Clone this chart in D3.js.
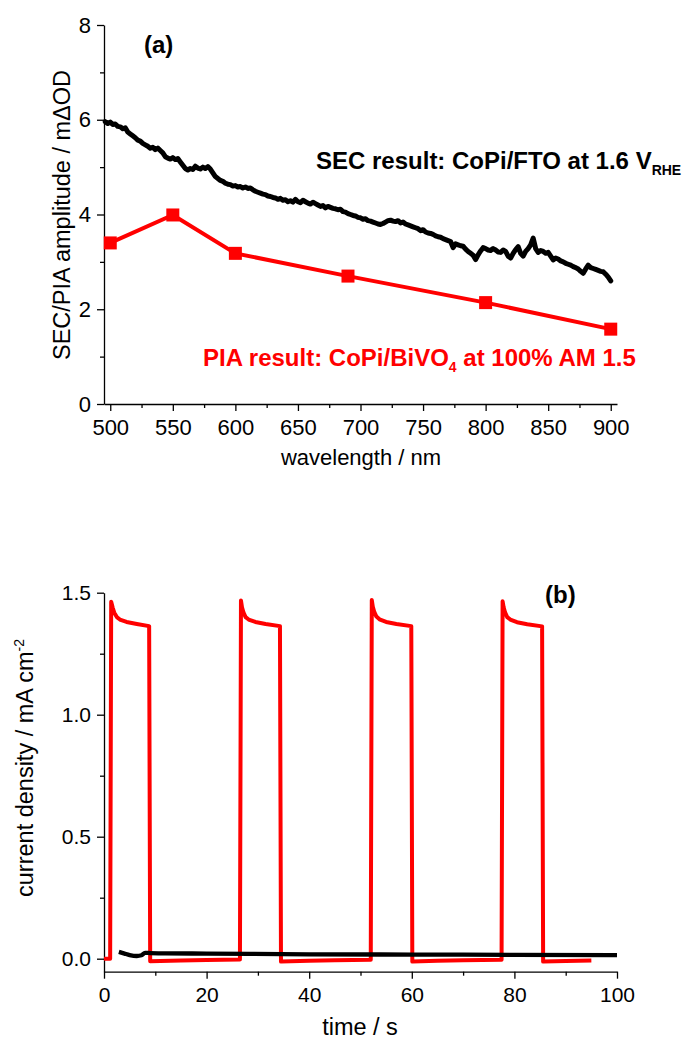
<!DOCTYPE html>
<html>
<head>
<meta charset="utf-8">
<script src="https://cdn.jsdelivr.net/npm/d3@7"></script>
<style>
  body { margin: 0; background: #fff; }
  svg { display: block; font-family: "Liberation Sans", Arial, sans-serif; }
  .axis path, .axis line { stroke: #000; stroke-width: 1.3; }
  .axis text { fill: #000; font-family: "Liberation Sans", Arial, sans-serif; }
</style>
</head>
<body>
<div id="chart"></div>
<script>
// ---- data: panel (a) ----
// PIA result, CoPi/BiVO4 (red squares)
var piaWl = [500, 550, 600, 690, 800, 900];
var piaAmp = [3.40, 3.99, 3.18, 2.70, 2.14, 1.58];

// SEC result, CoPi/FTO (black noisy trace), sampled every 2 nm from 496 to 900
var secStart = 496;
var secStep = 2;
var secAmp = [
  5.96, 5.92, 5.95, 5.90, 5.91, 5.86, 5.85, 5.81, 5.83, 5.74, 5.70, 5.66, 5.62, 5.57, 5.55, 5.50,
  5.47, 5.44, 5.40, 5.42, 5.37, 5.40, 5.35, 5.30, 5.22, 5.19, 5.17, 5.20, 5.16, 5.18, 5.11, 5.04,
  4.97, 4.94, 4.97, 4.95, 5.02, 4.98, 4.96, 5.00, 4.97, 5.01, 4.96, 4.88, 4.80, 4.76, 4.72, 4.70,
  4.66, 4.64, 4.63, 4.60, 4.61, 4.58, 4.59, 4.56, 4.58, 4.55, 4.56, 4.52, 4.49, 4.47, 4.45, 4.43,
  4.42, 4.39, 4.38, 4.36, 4.35, 4.32, 4.34, 4.30, 4.31, 4.27, 4.29, 4.26, 4.32, 4.27, 4.25, 4.30,
  4.27, 4.24, 4.22, 4.26, 4.23, 4.20, 4.17, 4.19, 4.14, 4.17, 4.15, 4.13, 4.12, 4.10, 4.11, 4.06,
  4.05, 4.02, 4.00, 3.98, 3.97, 3.94, 3.93, 3.90, 3.91, 3.87, 3.86, 3.84, 3.82, 3.80, 3.79, 3.81,
  3.84, 3.87, 3.88, 3.86, 3.85, 3.87, 3.82, 3.84, 3.80, 3.78, 3.76, 3.74, 3.72, 3.70, 3.66, 3.68,
  3.63, 3.61, 3.60, 3.58, 3.55, 3.53, 3.52, 3.49, 3.47, 3.45, 3.43, 3.30, 3.38, 3.36, 3.34, 3.33,
  3.27, 3.22, 3.18, 3.14, 3.05, 3.15, 3.23, 3.30, 3.28, 3.25, 3.24, 3.28, 3.25, 3.21, 3.20, 3.25,
  3.22, 3.12, 3.08, 3.18, 3.26, 3.32, 3.18, 3.12, 3.22, 3.28, 3.36, 3.50, 3.28, 3.20, 3.24, 3.22,
  3.18, 3.20, 3.12, 3.04, 3.08, 3.06, 3.02, 3.00, 2.97, 2.95, 2.93, 2.90, 2.88, 2.85, 2.80, 2.76,
  2.85, 2.93, 2.88, 2.86, 2.84, 2.82, 2.80, 2.79, 2.74, 2.68, 2.60];

var aXTicks = [500, 550, 600, 650, 700, 750, 800, 850, 900];
var aXMinor = [525, 575, 625, 675, 725, 775, 825, 875];
var aYTicks = [0, 2, 4, 6, 8];
var aYMinor = [1, 3, 5, 7];

// ---- data: panel (b) ----
// chopped light photocurrent, CoPi/BiVO4 (red)
var lightT = [0, 1.2, 1.4, 1.7, 2.0, 2.5, 3.1, 4.4, 6.4, 8.8, 9.0, 15, 20, 26.5,
  26.7, 26.9, 27.2, 27.6, 28.2, 29.5, 31.5, 34.3, 34.5, 40, 45, 52.0,
  52.2, 52.4, 52.7, 53.1, 53.7, 55.0, 57.0, 59.9, 60.1, 65, 70, 77.5,
  77.7, 77.9, 78.2, 78.6, 79.2, 80.5, 82.5, 85.4, 85.6, 90, 95.0];
var lightJ = [0.0, 0.0, 1.463, 1.438, 1.418, 1.400, 1.390, 1.380, 1.372, 1.363, -0.010, -0.007, -0.005, -0.003,
  1.468, 1.440, 1.418, 1.400, 1.390, 1.380, 1.372, 1.363, -0.012, -0.008, -0.006, -0.004,
  1.470, 1.442, 1.420, 1.402, 1.391, 1.380, 1.372, 1.363, -0.012, -0.008, -0.006, -0.004,
  1.465, 1.440, 1.418, 1.400, 1.390, 1.379, 1.371, 1.362, -0.012, -0.009, -0.007];

// dark current (black)
var darkT = [2.9, 4.0, 5.0, 6.4, 7.3, 8.0, 9.0, 12, 20, 40, 60, 80, 100];
var darkJ = [0.028, 0.021, 0.015, 0.011, 0.014, 0.024, 0.023, 0.022, 0.021, 0.018, 0.017, 0.016, 0.015];

var bXTicks = [0, 20, 40, 60, 80, 100];
var bXMinor = [10, 30, 50, 70, 90];
var bYTicks = [0, 0.5, 1.0, 1.5];
var bYMinor = [0.25, 0.75, 1.25];

// SVG
var svgWidth = 687;
var svgHeight = 1041;

var svg = d3.select("#chart")
  .append("svg")
  .attr("width", svgWidth)
  .attr("height", svgHeight);

// helper to draw major + minor ticks
function drawAxes(xScale, yScale, xTicks, xMinor, yTicks, yMinor, yFormat, fontSize) {
  var y0 = yScale.range()[0];
  var x0 = xScale.range()[0];

  svg.append("g")
    .attr("class", "axis")
    .attr("transform", `translate(0, ${y0})`)
    .call(d3.axisBottom(xScale).tickValues(xMinor).tickSize(4).tickSizeOuter(0).tickFormat(""))
    .select(".domain").remove();

  svg.append("g")
    .attr("class", "axis")
    .attr("transform", `translate(${x0}, 0)`)
    .call(d3.axisLeft(yScale).tickValues(yMinor).tickSize(4).tickSizeOuter(0).tickFormat(""))
    .select(".domain").remove();

  svg.append("g")
    .attr("class", "axis")
    .attr("transform", `translate(0, ${y0})`)
    .call(d3.axisBottom(xScale).tickValues(xTicks).tickSize(7).tickSizeOuter(0).tickPadding(8))
    .selectAll("text").style("font-size", fontSize + "px");

  svg.append("g")
    .attr("class", "axis")
    .attr("transform", `translate(${x0}, 0)`)
    .call(d3.axisLeft(yScale).tickValues(yTicks).tickSize(7).tickSizeOuter(0).tickPadding(6).tickFormat(yFormat))
    .selectAll("text").style("font-size", fontSize + "px");
}

// ================= panel (a) =================
var xA = d3.scaleLinear().domain([495, 905]).range([104, 617]);
var yA = d3.scaleLinear().domain([0, 8]).range([404, 25]);

drawAxes(xA, yA, aXTicks, aXMinor, aYTicks, aYMinor, d3.format("d"), 22);

var secLine = d3.line()
  .x((d, i) => xA(secStart + i * secStep))
  .y(d => yA(d));

svg.append("path")
  .datum(secAmp)
  .attr("d", secLine)
  .attr("fill", "none")
  .attr("stroke", "#000")
  .attr("stroke-width", 5)
  .attr("stroke-linejoin", "round")
  .attr("stroke-linecap", "round");

var piaLine = d3.line()
  .x((d, i) => xA(piaWl[i]))
  .y(d => yA(d));

svg.append("path")
  .datum(piaAmp)
  .attr("d", piaLine)
  .attr("fill", "none")
  .attr("stroke", "#ff0000")
  .attr("stroke-width", 4);

svg.selectAll(".piaMark")
  .data(piaAmp)
  .enter()
  .append("rect")
  .attr("class", "piaMark")
  .attr("x", (d, i) => xA(piaWl[i]) - 6.5)
  .attr("y", d => yA(d) - 6.5)
  .attr("width", 13)
  .attr("height", 13)
  .attr("fill", "#ff0000");

// axis titles
svg.append("text")
  .attr("transform", "translate(70, 215) rotate(-90)")
  .style("text-anchor", "middle")
  .style("font-size", "23.5px")
  .text("SEC/PIA amplitude / m\u0394OD");

svg.append("text")
  .attr("x", 361)
  .attr("y", 465)
  .style("text-anchor", "middle")
  .style("font-size", "22px")
  .text("wavelength / nm");

// annotations
svg.append("text")
  .attr("x", 144)
  .attr("y", 53)
  .style("font-size", "24px")
  .style("font-weight", "bold")
  .text("(a)");

var secText = svg.append("text")
  .attr("x", 316)
  .attr("y", 169)
  .style("font-size", "24px")
  .style("font-weight", "bold");
secText.append("tspan").text("SEC result: CoPi/FTO at 1.6 V");
secText.append("tspan").attr("dy", 6).style("font-size", "14px").text("RHE");

var piaText = svg.append("text")
  .attr("x", 203)
  .attr("y", 366)
  .attr("fill", "#ff0000")
  .style("font-size", "24px")
  .style("font-weight", "bold");
piaText.append("tspan").text("PIA result: CoPi/BiVO");
piaText.append("tspan").attr("dy", 6).style("font-size", "14px").text("4");
piaText.append("tspan").attr("dy", -6).text(" at 100% AM 1.5");

// ================= panel (b) =================
var xB = d3.scaleLinear().domain([0, 100]).range([104, 617]);
var yB = d3.scaleLinear().domain([-0.0533, 1.5]).range([971.7, 592.7]);

drawAxes(xB, yB, bXTicks, bXMinor, bYTicks, bYMinor, d3.format(".1f"), 21);

var lightLine = d3.line()
  .x((d, i) => xB(lightT[i]))
  .y(d => yB(d));

svg.append("path")
  .datum(lightJ)
  .attr("d", lightLine)
  .attr("fill", "none")
  .attr("stroke", "#ff0000")
  .attr("stroke-width", 4)
  .attr("stroke-linejoin", "round");

var darkLine = d3.line()
  .curve(d3.curveMonotoneX)
  .x((d, i) => xB(darkT[i]))
  .y(d => yB(d));

svg.append("path")
  .datum(darkJ)
  .attr("d", darkLine)
  .attr("fill", "none")
  .attr("stroke", "#000")
  .attr("stroke-width", 4.3);

// axis titles
var yTitleB = svg.append("text")
  .attr("transform", "translate(33, 768) rotate(-90)")
  .style("text-anchor", "middle")
  .style("font-size", "23.5px");
yTitleB.append("tspan").text("current density / mA cm");
yTitleB.append("tspan").attr("dy", -9).style("font-size", "14px").text("-2");

svg.append("text")
  .attr("x", 360)
  .attr("y", 1035)
  .style("text-anchor", "middle")
  .style("font-size", "23.5px")
  .text("time / s");

svg.append("text")
  .attr("x", 545)
  .attr("y", 603)
  .style("font-size", "24px")
  .style("font-weight", "bold")
  .text("(b)");
</script>
</body>
</html>
